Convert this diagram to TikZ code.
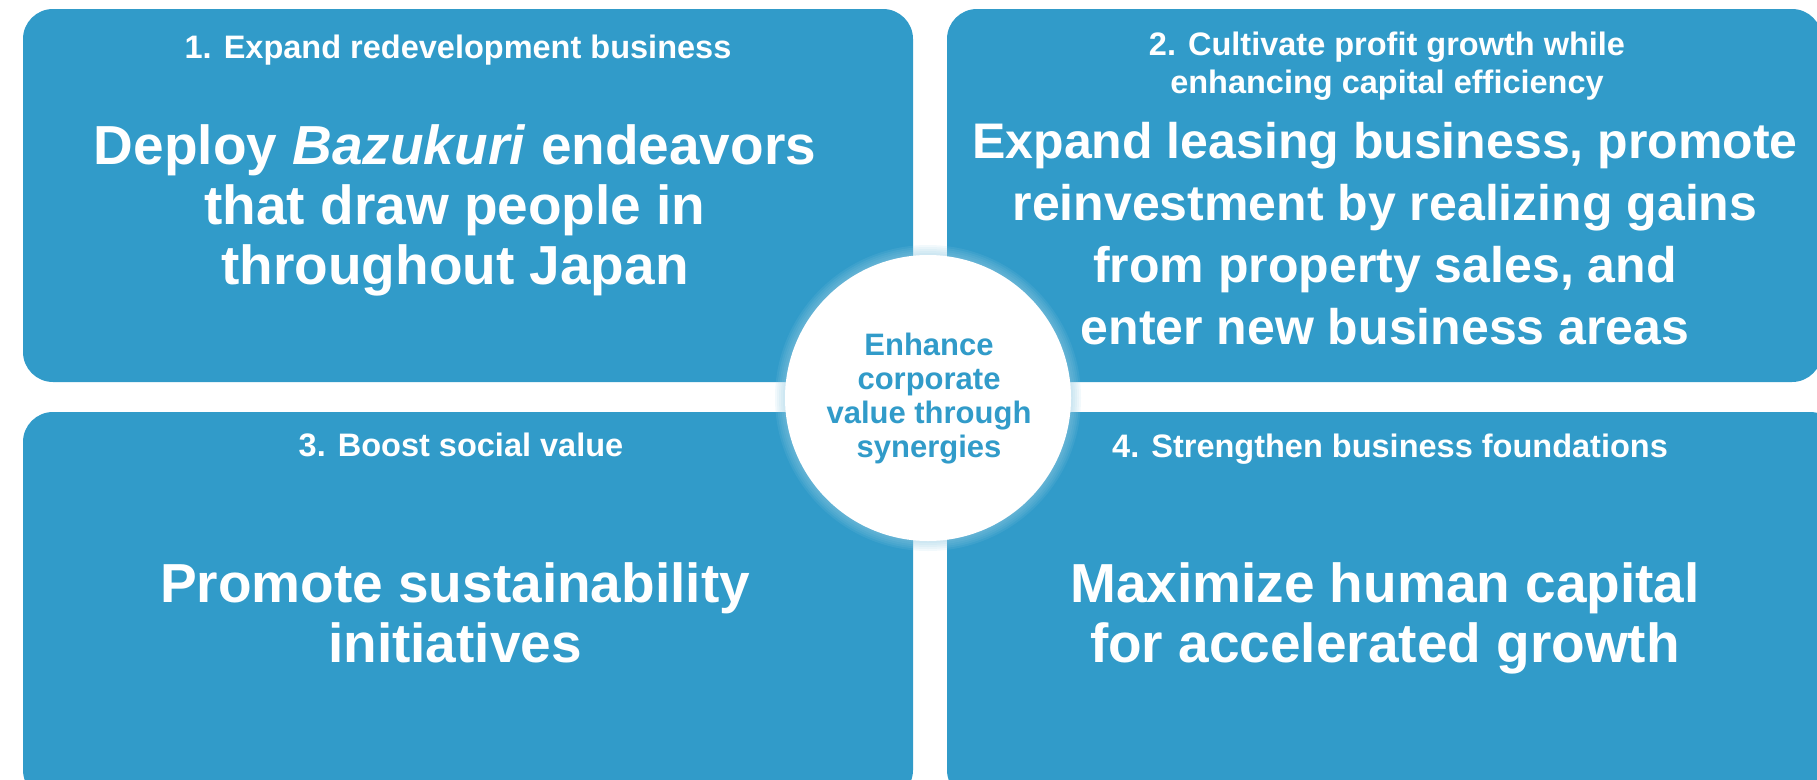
\documentclass[tikz,border=0pt]{standalone}
\usepackage{fontspec}
\setmainfont{Liberation Sans}
\usetikzlibrary{positioning}
\definecolor{quadblue}{RGB}{49,155,201}

\begin{document}
\begin{tikzpicture}[x=1pt, y=-1pt,
    quad/.style={fill=quadblue, rounded corners=30pt, inner sep=0pt},
    head/.style={text=white, font=\fontsize{32.5}{38}\selectfont\bfseries, align=center},
    goal/.style={text=white, font=\fontsize{55}{60}\selectfont\bfseries, align=center},
    hub/.style={circle, fill=white, minimum size=286pt, inner sep=0pt},
    hubtext/.style={text=quadblue, font=\fontsize{31}{34}\selectfont\bfseries, align=center}]
    \useasboundingbox (0,0) rectangle (1817,779);
    \clip (0,0) rectangle (1817,779);
    % four quadrants
    \node [quad, minimum width=890pt, minimum height=373pt] (q1) at (468,195.5) {};
    \node [quad, minimum width=875pt, minimum height=373pt] (q2) at (1384.5,195.5) {};
    \node [quad, minimum width=890pt, minimum height=388pt] (q3) at (468,606) {};
    \node [quad, minimum width=893pt, minimum height=388pt] (q4) at (1393.5,606) {};
    % headings and goals
    \node [head] (h1) at (458,50) {1. Expand redevelopment business};
    \node [goal] (g1) at (455,210) {Deploy \textit{Bazukuri} endeavors\\that draw people in\\throughout Japan};
    \node [head] (h2) at (1387,66) {2. Cultivate profit growth while\\enhancing capital efficiency};
    \node [goal, font=\fontsize{50}{62}\selectfont\bfseries] (g2) at (1385,234) {Expand leasing business, promote\\reinvestment by realizing gains\\from property sales, and\\enter new business areas};
    \node [head] (h3) at (461,445) {3. Boost social value};
    \node [goal] (g3) at (455,613) {Promote sustainability\\initiatives};
    \node [head] (h4) at (1390,449) {4. Strengthen business foundations};
    \node [goal] (g4) at (1385,618) {Maximize human capital\\for accelerated growth};
    % centre circle with soft glow
    \coordinate (c) at (928,398);
    \foreach \r in {153,151,149,147,145}
        \fill [quadblue!50, opacity=0.12] (c) circle (\r);
    \node [hub] (hub) at (c) {};
    \node [hubtext] (synergy) at (929,399) {Enhance\\corporate\\value through\\synergies};
\end{tikzpicture}
\end{document}
